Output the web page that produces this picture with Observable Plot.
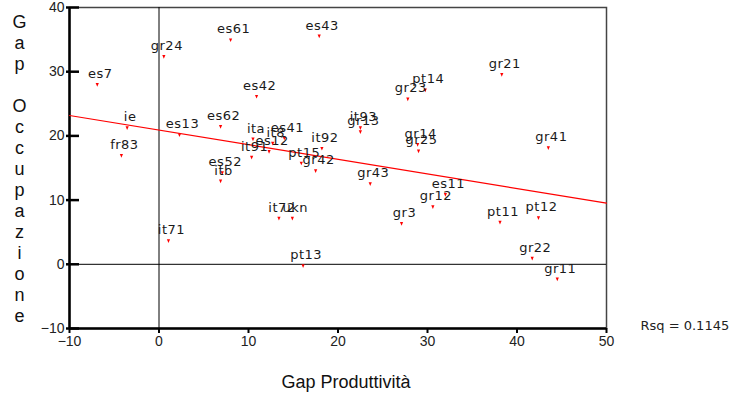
<!DOCTYPE html>
<html><head><meta charset="utf-8">
<script src="https://cdn.jsdelivr.net/npm/d3@7"></script>
<script src="https://cdn.jsdelivr.net/npm/@observablehq/plot@0.6"></script>
<style>body{margin:0;background:#fff;}</style>
</head><body><div id="chart"></div>
<script>
const regions = ["es61","gr24","es7","ie","es13","es62","es42","es43","gr23","pt14","gr21","it93","gr13","fr83","ita","it8","es41","es12","it91","es52","itb","it71","it92","pt15","gr42","gr14","gr25","gr43","es11","gr12","gr3","it72","ukn","pt13","gr41","pt11","pt12","gr22","gr11"];
const gapProduttivita = [8.0,0.54,-6.9,-3.56,2.29,6.88,10.9,17.9,27.8,29.75,38.3,22.5,22.5,-4.2,10.5,12.7,14.0,12.3,10.35,7.07,6.88,1.06,18.2,15.9,17.5,28.9,29.0,23.6,32.0,30.6,27.1,13.4,14.9,16.1,43.5,38.1,42.4,41.7,44.5];
const gapOccupazione = [34.9,32.3,27.95,21.2,20.1,21.4,26.1,35.5,25.7,27.1,29.5,21.2,20.6,16.9,19.45,18.8,19.6,17.5,16.6,14.2,12.9,3.6,18.0,15.7,14.5,18.6,17.6,12.5,10.8,8.9,6.3,7.1,7.1,-0.3,18.1,6.5,7.2,0.9,-2.35];
const xTicks = [-10,0,10,20,30,40,50];
const yTicks = [-10,0,10,20,30,40];
const xTitle = "Gap Produttività";
const yTitle = "Gap Occupazione";
const rsqText = "Rsq = 0.1145";

const data = regions.map((r, i) => ({region: r, x: gapProduttivita[i], y: gapOccupazione[i]}));
const mx = d3.mean(data, d => d.x), my = d3.mean(data, d => d.y);
const slope = d3.sum(data, d => (d.x - mx) * (d.y - my)) / d3.sum(data, d => (d.x - mx) ** 2);
const intercept = my - slope * mx;
const xDomain = [xTicks[0], xTicks[xTicks.length - 1]];
const yDomain = [yTicks[0], yTicks[yTicks.length - 1]];
const fit = xDomain.map(x => ({x, y: intercept + slope * x}));

const triangleDown = {
  draw(ctx, size) {
    const s = Math.sqrt(size);
    const w = s * 0.6, h = s * 0.7;
    ctx.moveTo(-w, -h); ctx.lineTo(w, -h); ctx.lineTo(0, h); ctx.closePath();
  }
};

const chart = Plot.plot({
  width: 737,
  height: 401,
  marginLeft: 69,
  marginRight: 131,
  marginTop: 7,
  marginBottom: 73,
  style: {fontFamily: "'Liberation Sans', Arial, sans-serif", fontSize: "14px", background: "#fff", color: "#000"},
  x: {domain: xDomain, label: null},
  y: {domain: yDomain, label: null},
  marks: [
    Plot.frame({stroke: "#444", strokeWidth: 1.5}),
    Plot.ruleX([0], {stroke: "#000", strokeWidth: 1}),
    Plot.ruleY([0], {stroke: "#000", strokeWidth: 1}),
    Plot.ruleX([xDomain[0]], {stroke: "#000", strokeWidth: 2.5}),
    Plot.ruleY([yDomain[0]], {stroke: "#000", strokeWidth: 2.5}),
    Plot.axisY(yTicks, {anchor: "left", tickSize: 13, dx: 10, tickPadding: 2, strokeWidth: 2.5, fill: "#222", fontSize: 14, label: null}),
    Plot.axisX(xTicks, {anchor: "bottom", tickSize: 5, tickPadding: 3, strokeWidth: 2, fill: "#222", fontSize: 14, label: null}),
    Plot.line(fit, {x: "x", y: "y", stroke: "#ff0000", strokeWidth: 1.2}),
    Plot.dot(data, {x: "x", y: "y", symbol: triangleDown, r: 1.5, fill: "#ff0000", stroke: "none"}),
    Plot.text(data, {x: "x", y: "y", text: "region", dx: 3, dy: -11, lineAnchor: "middle", textAnchor: "middle", fontFamily: "'DejaVu Sans', sans-serif", fontSize: 13, fill: "#1a1a1a"}),
    Plot.text([yTitle], {text: d => d.split("").join("\n"), frameAnchor: "left", dx: -50, textAnchor: "middle", lineAnchor: "middle", lineHeight: 1.1667, fontSize: 18, fill: "#111"}),
    Plot.text([xTitle], {text: d => d, frameAnchor: "bottom", dx: 8, dy: 54, textAnchor: "middle", lineAnchor: "middle", fontSize: 18, fill: "#111"}),
    Plot.text([rsqText], {text: d => d, frameAnchor: "bottom-right", dx: 34, dy: -3, textAnchor: "start", lineAnchor: "middle", fontFamily: "'DejaVu Sans', sans-serif", fontSize: 13, fill: "#222"})
  ]
});
chart.querySelectorAll("text").forEach(t => {
  if (t.closest("g[aria-label='text']") && t.textContent.length <= 4) t.style.letterSpacing = "0.5px";
});
document.getElementById("chart").append(chart);
</script>
</body></html>
